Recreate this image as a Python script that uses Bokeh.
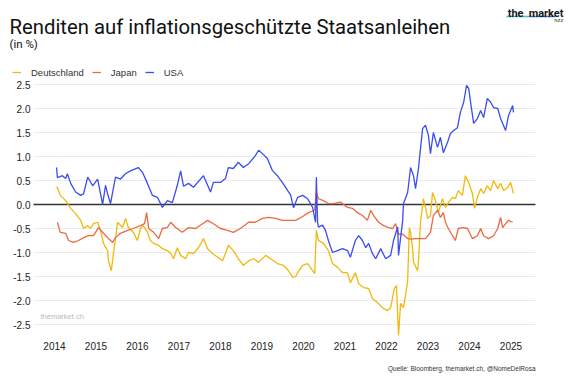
from bokeh.plotting import figure
from bokeh.models import Range1d, FixedTicker, Label, Legend, LegendItem
from bokeh.embed import file_html
from bokeh.resources import INLINE

# ---------------- data (decimal years, yield in %) ----------------
us_x = [2014.05, 2014.07, 2014.19, 2014.27, 2014.31, 2014.39, 2014.51, 2014.63, 2014.70, 2014.80,
        2014.92, 2015.04, 2015.11, 2015.16, 2015.23, 2015.28, 2015.35, 2015.47, 2015.59, 2015.71,
        2015.83, 2016.02, 2016.12, 2016.24, 2016.36, 2016.48, 2016.60, 2016.72, 2016.84, 2016.96,
        2017.04, 2017.11, 2017.23, 2017.35, 2017.45, 2017.59, 2017.69, 2017.76, 2017.83, 2018.00,
        2018.12, 2018.19, 2018.31, 2018.43, 2018.55, 2018.68, 2018.84, 2018.92, 2019.01, 2019.13,
        2019.25, 2019.37, 2019.49, 2019.62, 2019.69, 2019.76, 2019.86, 2019.98, 2020.10, 2020.22,
        2020.29, 2020.31, 2020.34, 2020.36, 2020.46, 2020.53, 2020.60, 2020.70, 2020.82, 2020.94,
        2021.06, 2021.13, 2021.25, 2021.33, 2021.42, 2021.50, 2021.57, 2021.66, 2021.74, 2021.86,
        2021.98, 2022.10, 2022.17, 2022.27, 2022.29, 2022.39, 2022.41, 2022.51, 2022.58, 2022.65,
        2022.70, 2022.77, 2022.87, 2022.94, 2023.01, 2023.06, 2023.13, 2023.23, 2023.30, 2023.37,
        2023.47, 2023.54, 2023.62, 2023.71, 2023.78, 2023.86, 2023.93, 2023.98, 2024.02, 2024.10,
        2024.19, 2024.27, 2024.34, 2024.43, 2024.51, 2024.58, 2024.68, 2024.75, 2024.87, 2024.94,
        2025.04, 2025.06]
us_y = [0.77, 0.56, 0.60, 0.54, 0.64, 0.44, 0.26, 0.19, 0.22, 0.57,
        0.39, 0.53, 0.22, 0.00, 0.40, 0.22, 0.02, 0.57, 0.53, 0.64,
        0.70, 0.77, 0.67, 0.44, 0.19, 0.15, -0.06, 0.08, 0.04, 0.40,
        0.70, 0.38, 0.44, 0.36, 0.46, 0.60, 0.40, 0.26, 0.46, 0.46,
        0.54, 0.77, 0.75, 0.88, 0.77, 0.85, 1.02, 1.13, 1.06, 0.96,
        0.71, 0.60, 0.46, 0.29, 0.20, -0.07, 0.15, 0.19, 0.12, -0.06,
        -0.37, 0.57, -0.37, -0.47, -0.43, -0.54, -0.75, -1.00, -0.96, -0.92,
        -0.96, -1.10, -0.75, -0.65, -0.75, -0.90, -0.81, -1.02, -1.13, -0.92,
        -1.13, -1.06, -0.75, -0.47, -1.06, -0.33, 0.02, 0.25, 0.77, 0.60,
        0.33, 0.75, 1.58, 1.65, 1.44, 1.06, 1.50, 1.19, 1.40, 1.08,
        1.29, 1.48, 1.54, 1.60, 1.92, 2.13, 2.48, 2.42, 2.17, 1.69,
        1.79, 1.96, 1.81, 2.21, 2.13, 2.02, 2.00, 1.79, 1.54, 1.85,
        2.06, 1.92]

jp_x = [2014.07, 2014.14, 2014.27, 2014.34, 2014.46, 2014.58, 2014.70, 2014.82, 2014.94, 2015.06,
        2015.18, 2015.30, 2015.40, 2015.47, 2015.59, 2015.76, 2015.90, 2016.07, 2016.17, 2016.22,
        2016.27, 2016.39, 2016.51, 2016.60, 2016.72, 2016.80, 2016.92, 2017.08, 2017.23, 2017.40,
        2017.57, 2017.69, 2017.83, 2018.00, 2018.17, 2018.31, 2018.48, 2018.68, 2018.84, 2019.01,
        2019.16, 2019.33, 2019.49, 2019.64, 2019.81, 2019.98, 2020.12, 2020.27, 2020.31, 2020.36,
        2020.48, 2020.60, 2020.72, 2020.89, 2021.06, 2021.18, 2021.30, 2021.42, 2021.54, 2021.62,
        2021.69, 2021.81, 2021.93, 2022.05, 2022.15, 2022.22, 2022.29, 2022.39, 2022.51, 2022.58,
        2022.70, 2022.82, 2022.94, 2023.06, 2023.13, 2023.23, 2023.30, 2023.37, 2023.42, 2023.49,
        2023.59, 2023.66, 2023.73, 2023.86, 2023.95, 2024.07, 2024.19, 2024.27, 2024.34, 2024.46,
        2024.58, 2024.68, 2024.75, 2024.80, 2024.87, 2024.94, 2025.04]
jp_y = [-0.37, -0.58, -0.60, -0.75, -0.79, -0.75, -0.69, -0.65, -0.65, -0.48,
        -0.60, -0.71, -0.79, -0.69, -0.60, -0.54, -0.50, -0.44, -0.40, -0.17,
        -0.50, -0.58, -0.71, -0.50, -0.48, -0.37, -0.48, -0.58, -0.48, -0.50,
        -0.40, -0.33, -0.40, -0.50, -0.54, -0.58, -0.50, -0.37, -0.37, -0.29,
        -0.27, -0.29, -0.33, -0.33, -0.33, -0.25, -0.17, -0.12, 0.25, 0.12,
        0.08, 0.02, 0.02, 0.05, -0.06, -0.08, -0.17, -0.23, -0.33, -0.12,
        -0.23, -0.37, -0.44, -0.48, -0.50, -0.40, -0.62, -0.62, -0.71, -0.72,
        -0.71, -0.71, -0.71, -0.58, -0.23, -0.12, -0.27, -0.17, -0.37, -0.50,
        -0.65, -0.75, -0.50, -0.48, -0.50, -0.71, -0.65, -0.50, -0.65, -0.71,
        -0.65, -0.50, -0.27, -0.48, -0.40, -0.33, -0.37]

de_x = [2014.05, 2014.07, 2014.14, 2014.27, 2014.39, 2014.51, 2014.63, 2014.70, 2014.80, 2014.87,
        2014.94, 2015.04, 2015.11, 2015.18, 2015.28, 2015.30, 2015.37, 2015.42, 2015.47, 2015.52,
        2015.64, 2015.71, 2015.78, 2015.90, 2016.00, 2016.07, 2016.14, 2016.24, 2016.31, 2016.39,
        2016.51, 2016.60, 2016.72, 2016.80, 2016.87, 2016.96, 2017.04, 2017.16, 2017.23, 2017.35,
        2017.47, 2017.59, 2017.69, 2017.81, 2017.93, 2018.05, 2018.12, 2018.19, 2018.31, 2018.43,
        2018.55, 2018.68, 2018.80, 2018.92, 2019.09, 2019.21, 2019.37, 2019.52, 2019.64, 2019.74,
        2019.81, 2019.86, 2019.98, 2020.10, 2020.22, 2020.27, 2020.31, 2020.36, 2020.48, 2020.60,
        2020.70, 2020.82, 2020.94, 2021.06, 2021.13, 2021.25, 2021.33, 2021.45, 2021.57, 2021.66,
        2021.78, 2021.90, 2022.02, 2022.10, 2022.19, 2022.24, 2022.29, 2022.34, 2022.41, 2022.51,
        2022.55, 2022.58, 2022.63, 2022.65, 2022.75, 2022.77, 2022.82, 2022.89, 2022.94, 2022.99,
        2023.06, 2023.11, 2023.18, 2023.25, 2023.35, 2023.42, 2023.49, 2023.59, 2023.66, 2023.73,
        2023.83, 2023.90, 2023.98, 2024.07, 2024.12, 2024.19, 2024.27, 2024.34, 2024.43, 2024.51,
        2024.58, 2024.68, 2024.75, 2024.82, 2024.92, 2024.99, 2025.06]
de_y = [0.37, 0.35, 0.19, 0.08, -0.08, -0.19, -0.33, -0.50, -0.44, -0.50,
        -0.40, -0.37, -0.54, -0.81, -0.96, -1.17, -1.38, -1.02, -0.71, -0.37,
        -0.48, -0.29, -0.48, -0.58, -0.75, -0.50, -0.44, -0.58, -0.75, -0.81,
        -0.85, -0.92, -0.96, -1.02, -1.13, -0.90, -1.06, -1.13, -1.00, -1.02,
        -0.90, -0.71, -0.92, -1.02, -1.10, -1.17, -1.02, -0.85, -0.96, -1.13,
        -1.27, -1.17, -1.13, -1.20, -1.06, -1.13, -1.23, -1.27, -1.38, -1.52,
        -1.50, -1.42, -1.27, -1.23, -1.38, -1.44, -0.54, -0.75, -0.81, -0.96,
        -1.23, -1.31, -1.42, -1.42, -1.63, -1.42, -1.65, -1.73, -1.75, -1.96,
        -2.04, -2.15, -2.21, -2.15, -1.75, -1.69, -2.73, -2.06, -2.15, -1.60,
        -0.48, -0.58, -0.92, -1.20, -1.38, -1.20, -0.37, 0.12, -0.06, -0.29,
        -0.23, 0.25, 0.08, -0.17, 0.12, -0.06, 0.04, 0.15, 0.12, 0.29,
        0.19, 0.60, 0.46, 0.23, -0.08, 0.15, 0.33, 0.23, 0.39, 0.29,
        0.50, 0.33, 0.44, 0.29, 0.35, 0.46, 0.23]

series_names = ["Deutschland", "Japan", "USA"]
series_colors = ["#F1B90C", "#EA6A43", "#3A4CF2"]

x_ticks = [2014, 2015, 2016, 2017, 2018, 2019, 2020, 2021, 2022, 2023, 2024, 2025]
x_tick_labels = [str(t) for t in x_ticks]
y_ticks = [2.5, 2.0, 1.5, 1.0, 0.5, 0.0, -0.5, -1.0, -1.5, -2.0, -2.5]
y_tick_labels = ["2.5", "2.0", "1.5", "1.0", "0.5", "0.0", "-0.5", "-1.0", "-1.5", "-2.0", "-2.5"]

title_text = "Renditen auf inflationsgeschützte Staatsanleihen"
subtitle_text = "(in %)"
source_text = "Quelle: Bloomberg, themarket.ch, @NomeDelRosa"
watermark_text = "themarket.ch"
logo_a, logo_b, logo_c = "the", "market", "NZZ"

# ---------------- layout ----------------
W, H = 569, 378
XR = (2012.699, 2026.41)
YR = (-3.625, 4.25)
# chart-area edges (data units): left/right ends of grid, bottom of plotting area
X_LEFT, X_RIGHT = 2013.494, 2025.59
Y_BOTTOM = -2.79

p = figure(width=W, height=H, output_backend="svg", toolbar_location=None,
           x_range=Range1d(*XR), y_range=Range1d(*YR), min_border=0)
p.outline_line_color = None
p.xgrid.visible = False
p.ygrid.visible = False

for ax in (p.xaxis[0], p.yaxis[0]):
    ax.axis_line_color = None
    ax.major_tick_line_color = None
    ax.minor_tick_line_color = None
    ax.major_tick_out = 0
    ax.major_tick_in = 0
    ax.minor_tick_out = 0
    ax.minor_tick_in = 0
    ax.major_label_text_font = "Liberation Sans"
    ax.major_label_text_font_size = "10px"
    ax.major_label_text_color = "#222222"
p.xaxis.ticker = FixedTicker(ticks=x_ticks)
p.xaxis.major_label_overrides = {t: l for t, l in zip(x_ticks, x_tick_labels)}
p.xaxis.major_label_standoff = 4
p.xaxis.fixed_location = Y_BOTTOM
p.yaxis.ticker = FixedTicker(ticks=y_ticks)
p.yaxis.major_label_overrides = {t: l for t, l in zip(y_ticks, y_tick_labels)}
p.yaxis.major_label_standoff = 3
p.yaxis.fixed_location = X_LEFT

# horizontal grid lines limited to the chart area
grid_y = [t for t in y_ticks if t != 0.0]
p.segment(x0=[X_LEFT] * len(grid_y), x1=[X_RIGHT] * len(grid_y), y0=grid_y, y1=grid_y,
          line_color="#EBEBEB", line_width=1)
p.segment(x0=[X_LEFT], x1=[X_RIGHT], y0=[0.0], y1=[0.0], line_color="#333333", line_width=1.4)

renderers = []
for xs, ys, c in ((de_x, de_y, series_colors[0]), (jp_x, jp_y, series_colors[1]),
                  (us_x, us_y, series_colors[2])):
    renderers.append(p.line(xs, ys, line_color=c, line_width=1.3))


def add_text(x, y, text, size, color="#111111", font="Liberation Sans", style="normal", align="left"):
    # x, y: pixel position from the top-left of the canvas (y = text baseline)
    p.add_layout(Label(x=x, y=H - y, x_units="screen", y_units="screen", text=text,
                       text_font=font, text_font_size=size, text_color=color,
                       text_font_style=style, text_align=align, text_baseline="alphabetic"))


add_text(9, 26, title_text, "20.3px", font="Roboto")
add_text(9, 43, subtitle_text, "11.5px", font="Roboto")
add_text(523, 13, logo_a, "11px", color="#1a1a1a", font="Roboto", style="bold", align="right")
add_text(563, 13, logo_b, "11px", color="#1a1a1a", font="Roboto", style="bold", align="right")
add_text(563, 20, logo_c, "4.5px", color="#444444", font="Liberation Serif", style="bold", align="right")
add_text(40, 316, watermark_text, "7.5px", color="#BBBBBB")
add_text(535, 368, source_text, "6.5px", color="#333333", align="right")


# logo underline (teal to blue), a decoration placed in canvas pixels
def px_x(px):
    return XR[0] + (XR[1] - XR[0]) * px / W


def px_y(py):
    return YR[1] - (YR[1] - YR[0]) * py / H


p.segment(x0=[px_x(506), px_x(530)], x1=[px_x(530), px_x(555)],
          y0=[px_y(16), px_y(16)], y1=[px_y(16), px_y(16)],
          line_color=["#44BFC8", "#3C78E0"], line_width=1.3)

legend = Legend(items=[LegendItem(label=n, renderers=[r]) for n, r in zip(series_names, renderers)],
                orientation="horizontal", location=(12, H - 78),
                label_text_font="Liberation Sans", label_text_font_size="9.5px",
                label_text_color="#333333", glyph_width=9, glyph_height=12, label_height=12,
                label_standoff=10, spacing=8, padding=0, margin=0,
                border_line_color=None, background_fill_alpha=0)
p.add_layout(legend)

open("out.html", "w").write(file_html(p, INLINE))
